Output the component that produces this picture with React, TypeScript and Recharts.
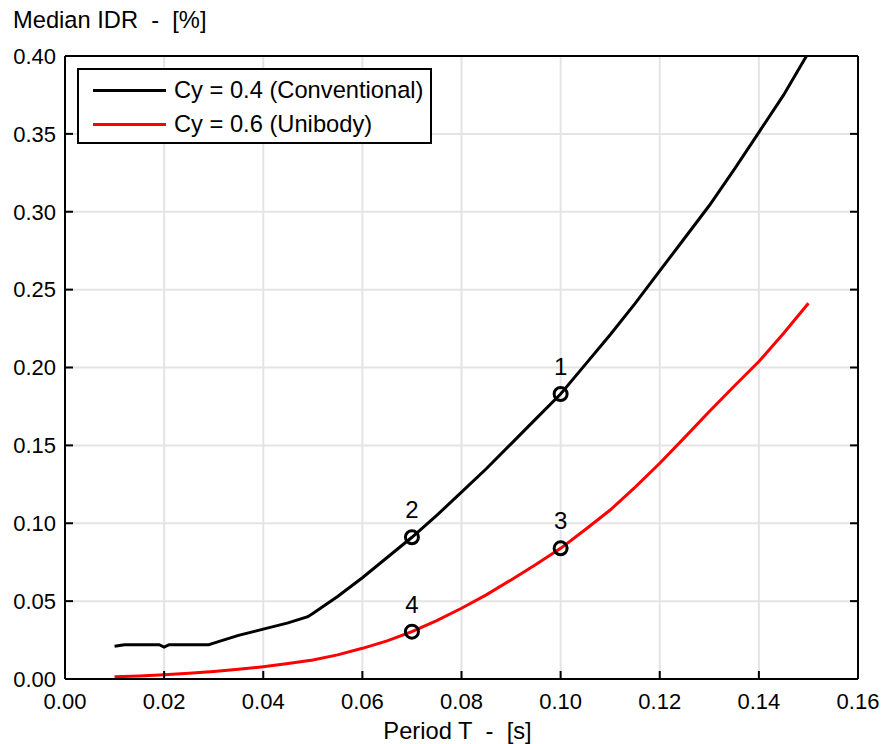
import { ComposedChart, Line, Scatter, XAxis, YAxis, CartesianGrid, Legend } from 'recharts'

const periodConventional = [
  0.01, 0.012, 0.019, 0.02, 0.021, 0.029, 0.03, 0.035, 0.04, 0.045, 0.049, 0.05, 0.055, 0.06, 0.065, 0.07,
  0.075, 0.08, 0.085, 0.09, 0.095, 0.1, 0.105, 0.11, 0.115, 0.12, 0.125, 0.13, 0.135, 0.14, 0.145, 0.1496,
]
const idrConventional = [
  0.021, 0.022, 0.022, 0.0205, 0.022, 0.022, 0.023, 0.028, 0.032, 0.036, 0.04, 0.042, 0.053, 0.065, 0.078, 0.091,
  0.105, 0.12, 0.135, 0.151, 0.167, 0.183, 0.202, 0.221, 0.241, 0.262, 0.283, 0.304, 0.327, 0.351, 0.375, 0.4,
]

const periodUnibody = [
  0.01, 0.015, 0.02, 0.025, 0.03, 0.035, 0.04, 0.045, 0.05, 0.055, 0.06, 0.065, 0.07, 0.075, 0.08,
  0.085, 0.09, 0.095, 0.1, 0.105, 0.11, 0.115, 0.12, 0.125, 0.13, 0.135, 0.14, 0.145, 0.15,
]
const idrUnibody = [
  0.0015, 0.002, 0.0028, 0.0037, 0.0048, 0.0062, 0.0079, 0.0099, 0.0122, 0.0155, 0.0197, 0.0245, 0.0304, 0.0375, 0.0454,
  0.054, 0.0636, 0.0735, 0.0839, 0.096, 0.1085, 0.123, 0.1385, 0.155, 0.1717, 0.188, 0.2038, 0.222, 0.2413,
]

const markerLabels = ['1', '2', '3', '4']
const markerPeriods = [0.1, 0.07, 0.1, 0.07]
const markerIdr = [0.183, 0.091, 0.0839, 0.0304]

const xTicks = [0, 0.02, 0.04, 0.06, 0.08, 0.1, 0.12, 0.14, 0.16]
const yTicks = [0, 0.05, 0.1, 0.15, 0.2, 0.25, 0.3, 0.35, 0.4]

const seriesInfo = [
  { name: 'Cy = 0.4 (Conventional)', color: '#000000' },
  { name: 'Cy = 0.6 (Unibody)', color: '#ff0000' },
]

const conventionalData = periodConventional.map((t, i) => ({ t, v: idrConventional[i] }))
const unibodyData = periodUnibody.map((t, i) => ({ t, v: idrUnibody[i] }))
const markerData = markerLabels.map((label, i) => ({ label, t: markerPeriods[i], v: markerIdr[i] }))

const font = '"Liberation Sans", Arial, sans-serif'
const frame = { stroke: '#000', strokeWidth: 2 }
const TICK = 8
const LABEL_SIZE = 23.7

// each tick renderer draws a short inward mark from the axis line, plus the label where there is one
const BottomTick = (props: any) => {
  const { x, y, payload } = props
  const axisY = y - 14
  return (
    <g>
      <line x1={x} x2={x} y1={axisY} y2={axisY - TICK} {...frame} />
      <text x={x} y={y} dy="0.71em" textAnchor="middle" fontSize={22} fontFamily={font} fill="#000">
        {payload.value.toFixed(2)}
      </text>
    </g>
  )
}

const LeftTick = (props: any) => {
  const { x, y, payload } = props
  const axisX = x + 9
  return (
    <g>
      <line x1={axisX} x2={axisX + TICK} y1={y} y2={y} {...frame} />
      <text x={x} y={y} dy="0.355em" textAnchor="end" fontSize={22} fontFamily={font} fill="#000">
        {payload.value.toFixed(2)}
      </text>
    </g>
  )
}

const TopTick = (props: any) => {
  const { x, y } = props
  return <line x1={x} x2={x} y1={y} y2={y + TICK} {...frame} />
}

const RightTick = (props: any) => {
  const { x, y } = props
  return <line x1={x} x2={x - TICK} y1={y} y2={y} {...frame} />
}

const MarkerShape = (props: any) => {
  const { cx, cy, payload } = props
  return (
    <g>
      <circle cx={cx} cy={cy} r={6.5} fill="none" stroke="#000" strokeWidth={3} />
      <text x={cx} y={cy - 19} textAnchor="middle" fontSize={24} fontFamily={font} fill="#000">
        {payload.label}
      </text>
    </g>
  )
}

const LegendBox = () => (
  <div
    style={{
      width: 351,
      height: 72,
      border: '2px solid #000',
      background: '#fff',
      fontFamily: font,
      fontSize: LABEL_SIZE,
      color: '#000',
      boxSizing: 'content-box',
    }}
  >
    {seriesInfo.map((s, i) => (
      <div key={i} style={{ display: 'flex', alignItems: 'center', height: 34, marginTop: i === 0 ? 3 : 0 }}>
        <div style={{ width: 73, height: 3, background: s.color, marginLeft: 14, marginRight: 8 }} />
        <span>{s.name}</span>
      </div>
    ))}
  </div>
)

export default function App() {
  return (
    <div style={{ position: 'absolute', left: 0, top: 0, width: 884, height: 744, background: '#fff' }}>
      <div
        style={{
          position: 'absolute',
          left: 13,
          top: 7,
          fontFamily: font,
          fontSize: LABEL_SIZE,
          whiteSpace: 'pre',
          color: '#000',
        }}
      >
        {'Median IDR  -  [%]'}
      </div>
      <ComposedChart
        width={884}
        height={744}
        margin={{ top: 55, right: 25, left: 0, bottom: 0 }}
        style={{ fontFamily: font }}
      >
        <CartesianGrid xAxisId="b" yAxisId="l" stroke="#e4e4e4" strokeWidth={2} />
        <XAxis
          xAxisId="b"
          dataKey="t"
          type="number"
          domain={[0, 0.16]}
          ticks={xTicks}
          allowDataOverflow
          interval={0}
          height={65}
          tickSize={0}
          tickMargin={14}
          tickLine={false}
          tick={BottomTick}
          axisLine={frame}
          label={{
            value: 'Period T\u00a0\u00a0-\u00a0\u00a0[s]',
            position: 'insideBottom',
            offset: 5,
            dx: -4,
            fontSize: LABEL_SIZE,
            fill: '#000',
          }}
        />
        <YAxis
          yAxisId="l"
          type="number"
          domain={[0, 0.4]}
          ticks={yTicks}
          allowDataOverflow
          interval={0}
          width={65}
          tickSize={0}
          tickMargin={9}
          tickLine={false}
          tick={LeftTick}
          axisLine={frame}
        />
        <XAxis
          xAxisId="t"
          orientation="top"
          type="number"
          domain={[0, 0.16]}
          ticks={xTicks}
          allowDataOverflow
          interval={0}
          height={1}
          tickSize={0}
          tickMargin={0}
          tickLine={false}
          tick={TopTick}
          axisLine={frame}
        />
        <YAxis
          yAxisId="r"
          orientation="right"
          type="number"
          domain={[0, 0.4]}
          ticks={yTicks}
          allowDataOverflow
          interval={0}
          width={1}
          tickSize={0}
          tickMargin={0}
          tickLine={false}
          tick={RightTick}
          axisLine={frame}
        />
        <Line
          xAxisId="b"
          yAxisId="l"
          data={conventionalData}
          dataKey="v"
          name={seriesInfo[0].name}
          type="linear"
          stroke={seriesInfo[0].color}
          strokeWidth={3}
          dot={false}
          isAnimationActive={false}
        />
        <Line
          xAxisId="b"
          yAxisId="l"
          data={unibodyData}
          dataKey="v"
          name={seriesInfo[1].name}
          type="linear"
          stroke={seriesInfo[1].color}
          strokeWidth={3}
          dot={false}
          isAnimationActive={false}
        />
        <Scatter
          xAxisId="b"
          yAxisId="l"
          data={markerData}
          dataKey="v"
          shape={MarkerShape}
          isAnimationActive={false}
          legendType="none"
        />
        <Legend
          layout="vertical"
          align="center"
          verticalAlign="middle"
          content={LegendBox}
          wrapperStyle={{ position: 'absolute', left: 77, top: 68, width: 355, height: 76 }}
        />
      </ComposedChart>
    </div>
  )
}
